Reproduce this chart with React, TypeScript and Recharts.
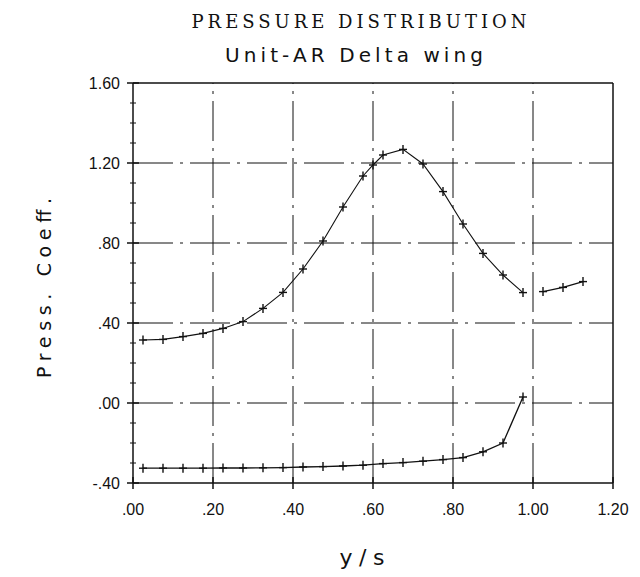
import React from 'react';
import { LineChart, Line, XAxis, YAxis, ReferenceLine } from 'recharts';

// ---- data ----
const upperX = [0.025, 0.075, 0.125, 0.175, 0.225, 0.275, 0.325, 0.375, 0.425, 0.475, 0.525, 0.575, 0.6, 0.625, 0.675, 0.725, 0.775, 0.825, 0.875, 0.925, 0.975];
const upperY = [0.315, 0.318, 0.332, 0.348, 0.373, 0.407, 0.473, 0.553, 0.67, 0.81, 0.98, 1.135, 1.19, 1.24, 1.268, 1.195, 1.057, 0.895, 0.748, 0.64, 0.552];
const tipX = [1.025, 1.075, 1.125];
const tipY = [0.557, 0.578, 0.607];
const lowerX = [0.025, 0.075, 0.125, 0.175, 0.225, 0.275, 0.325, 0.375, 0.425, 0.475, 0.525, 0.575, 0.625, 0.675, 0.725, 0.775, 0.825, 0.875, 0.925, 0.975];
const lowerY = [-0.326, -0.326, -0.326, -0.326, -0.325, -0.325, -0.324, -0.323, -0.32, -0.318, -0.315, -0.311, -0.303, -0.298, -0.291, -0.283, -0.273, -0.244, -0.2, 0.03];

const xTicks = [0, 0.2, 0.4, 0.6, 0.8, 1.0, 1.2];
const xTickLabels = ['.00', '.20', '.40', '.60', '.80', '1.00', '1.20'];
const yTicks = [-0.4, -0.3, -0.2, -0.1, 0, 0.1, 0.2, 0.3, 0.4, 0.5, 0.6, 0.7, 0.8, 0.9, 1.0, 1.1, 1.2, 1.3, 1.4, 1.5, 1.6];
const yMajor = [-0.4, 0, 0.4, 0.8, 1.2, 1.6];
const yMajorLabels = ['-.40', '.00', '.40', '.80', '1.20', '1.60'];
const xGrid = [0.2, 0.4, 0.6, 0.8, 1.0];
const yGrid = [0, 0.4, 0.8, 1.2];

const title = 'PRESSURE DISTRIBUTION';
const subtitle = 'Unit-AR Delta wing';
const xLabel = 'y/s';
const yLabel = 'Press. Coeff.';

const toRows = (xs: number[], ys: number[]) => xs.map((x, i) => ({ x, y: ys[i] }));
const upperData = toRows(upperX, upperY);
const tipData = toRows(tipX, tipY);
const lowerData = toRows(lowerX, lowerY);

const INK = '#111';
const DASH = '40 7 3 7';
const TICK_FONT = '"Liberation Sans", Arial, sans-serif';

const PlusDot = (props: any) => {
  const { cx, cy, index } = props;
  if (cx == null || cy == null) return <g key={index} />;
  return (
    <g key={`p${index}-${cx}`}>
      <line x1={cx - 4} y1={cy} x2={cx + 4} y2={cy} stroke={INK} strokeWidth={1.4} />
      <line x1={cx} y1={cy - 4.5} x2={cx} y2={cy + 4.5} stroke={INK} strokeWidth={1.4} />
    </g>
  );
};

const YTick = (props: any) => {
  const { x, y, payload } = props;
  const v = payload.value as number;
  const idx = yMajor.findIndex((m) => Math.abs(m - v) < 1e-6);
  if (idx < 0) {
    return (
      <g>
        <line x1={x - 3} y1={y} x2={x + 3} y2={y} stroke={INK} strokeWidth={1} />
      </g>
    );
  }
  return (
    <g>
      <line x1={x - 6} y1={y} x2={x + 6} y2={y} stroke={INK} strokeWidth={1.5} />
      <text x={x - 13} y={y} dy="0.36em" textAnchor="end" fontFamily={TICK_FONT} fontSize={16} fill={INK}>
        {yMajorLabels[idx]}
      </text>
    </g>
  );
};

const XTick = (props: any) => {
  const { x, y, payload } = props;
  const v = payload.value as number;
  const idx = xTicks.findIndex((m) => Math.abs(m - v) < 1e-6);
  return (
    <g>
      <line x1={x} y1={y - 6} x2={x} y2={y + 6} stroke={INK} strokeWidth={1.5} />
      <text x={x} y={y + 32} textAnchor="middle" fontFamily={TICK_FONT} fontSize={16} fill={INK}>
        {idx >= 0 ? xTickLabels[idx] : ''}
      </text>
    </g>
  );
};

export default function App() {
  const W = 632;
  const H = 569;
  return (
    <div style={{ position: 'relative', width: W, height: H, background: '#fff' }}>
      <LineChart width={W} height={H} margin={{ top: 75, right: 27, bottom: 64, left: 65 }}>
        <XAxis
          dataKey="x"
          type="number"
          domain={[0, 1.2]}
          ticks={xTicks}
          interval={0}
          tickSize={0}
          tickMargin={0}
          tickLine={false}
          tick={<XTick />}
          axisLine={{ stroke: INK, strokeWidth: 1.5 }}
          height={30}
          allowDataOverflow
        />
        <YAxis
          type="number"
          domain={[-0.4, 1.6]}
          ticks={yTicks}
          interval={0}
          tickSize={0}
          tickMargin={0}
          tickLine={false}
          tick={<YTick />}
          axisLine={{ stroke: INK, strokeWidth: 1.5 }}
          width={60}
          allowDataOverflow
        />
        {yGrid.map((v) => (
          <ReferenceLine key={`gy${v}`} y={v} stroke={INK} strokeWidth={1} strokeDasharray={DASH} />
        ))}
        {xGrid.map((v) => (
          <ReferenceLine key={`gx${v}`} x={v} stroke={INK} strokeWidth={1} strokeDasharray={DASH} />
        ))}
        <ReferenceLine y={1.6} stroke={INK} strokeWidth={1.5} />
        <ReferenceLine x={1.2} stroke={INK} strokeWidth={1.5} />
        <Line data={upperData} dataKey="y" type="linear" stroke={INK} strokeWidth={1.1} dot={PlusDot} isAnimationActive={false} />
        <Line data={tipData} dataKey="y" type="linear" stroke={INK} strokeWidth={1.3} dot={PlusDot} isAnimationActive={false} />
        <Line data={lowerData} dataKey="y" type="linear" stroke={INK} strokeWidth={1.3} dot={PlusDot} isAnimationActive={false} />
      </LineChart>
      <svg width={W} height={H} style={{ position: 'absolute', left: 0, top: 0, pointerEvents: 'none' }}>
        <text x={351} y={20} textAnchor="middle" fontFamily='"DejaVu Serif", "Liberation Serif", serif' fontSize={18} fill={INK} textLength={335} lengthAdjust="spacing">
          {title}
        </text>
        <text x={346} y={54} textAnchor="middle" fontFamily='"DejaVu Sans", sans-serif' fontSize={20} fill={INK} textLength={258} lengthAdjust="spacing">
          {subtitle}
        </text>
        <text x={354} y={557} textAnchor="middle" fontFamily='"DejaVu Sans", sans-serif' fontSize={22} fill={INK} textLength={45} lengthAdjust="spacing">
          {xLabel}
        </text>
        <text
          x={0}
          y={0}
          transform="translate(43 280) rotate(-90)"
          textAnchor="middle"
          fontFamily='"DejaVu Sans", sans-serif'
          fontSize={19}
          fill={INK}
          textLength={180}
          lengthAdjust="spacing"
        >
          {yLabel}
        </text>
      </svg>
    </div>
  );
}
